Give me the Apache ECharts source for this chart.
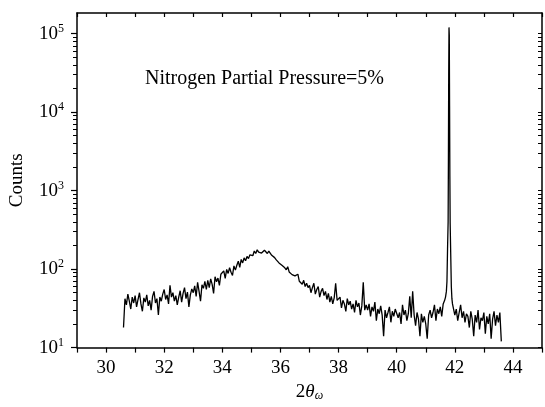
<!DOCTYPE html>
<html>
<head>
<meta charset="utf-8">
<script src="https://cdn.jsdelivr.net/npm/echarts@6/dist/echarts.min.js"></script>
<style>
  html, body { margin: 0; padding: 0; background: #fff; }
  #chart { width: 545px; height: 407px; }
</style>
</head>
<body>
<div id="chart"></div>
<script>
// scan before the peak: 30.60 .. 41.65, step 0.05
const scanAStart = 30.6
const scanBStart = 41.95
const scanStep = 0.05
const scanA = [
  18, 42, 35, 48, 39, 31, 44, 37,
  46, 33, 41, 50, 36, 29, 43, 38, 47, 34,
  40, 30, 45, 52, 37, 42, 26, 44, 39, 48,
  55, 41, 47, 36, 62, 44, 50, 39, 46, 35,
  44, 53, 38, 49, 58, 42, 51, 33, 47, 56,
  50, 61, 45, 68, 52, 39, 63, 57, 70, 55,
  72, 58, 75, 64, 49, 80, 69, 77, 62, 86,
  82, 95, 76, 99, 88, 104, 91, 83, 110, 97,
  112, 126, 105, 133, 120, 139, 128, 145, 136, 152,
  160, 148, 170, 158, 176, 165, 172, 160, 168, 174,
  166, 158, 170, 162, 150, 155, 140, 132, 128, 120,
  124, 112, 118, 104, 98, 107, 92, 96, 85, 90,
  82, 78, 86, 70, 74, 64, 72, 60, 66, 58,
  62, 50, 58, 66, 48, 55, 60, 44, 52, 57,
  46, 52, 41, 49, 38, 45, 36, 43, 66, 40,
  38, 44, 32, 40, 36, 29, 42, 35, 39, 31,
  36, 28, 40, 33, 37, 26, 34, 68, 30, 35,
  30, 36, 25, 33, 29, 38, 22, 31, 27, 34,
  26, 14, 30, 24, 28, 33, 21, 29, 25, 31,
  32, 24, 28, 20, 35, 26, 30, 22, 27, 45,
  24, 52, 26, 19, 28, 23, 14, 27, 21, 25,
  20, 13, 26, 30, 24, 28, 35, 22, 31, 27,
  33, 25, 36, 40
]
// the sharp peak near 41.8
const peakTheta = [41.68, 41.71, 41.73, 41.75, 41.77, 41.78, 41.79, 41.80, 41.81, 41.82, 41.83, 41.84, 41.86, 41.88, 41.90, 41.92]
const peakCounts = [44, 52, 70, 180, 400, 2500, 30000, 120000, 95000, 12000, 1500, 380, 150, 60, 42, 36]
// scan after the peak: 41.95 .. 43.60
const scanB = [
  34, 26, 31, 22, 28, 35, 24, 29, 21, 27,
  25, 18, 29, 23, 14, 26, 21, 30, 17, 24,
  22, 28, 15, 25, 20, 27, 13, 23, 29, 19,
  26, 21, 28, 12
]

const majorTicks = [10, 100, 1000, 10000, 100000]
const minorTicks = []
majorTicks.forEach(p => {
  for (let k = 2; k <= 9; k++) minorTicks.push(p * k)
})

const yMin = 10
const yMax = 183000
const xMin = 29
const xMax = 45

const seriesData = []
scanA.forEach((v, i) => seriesData.push([+(scanAStart + i * scanStep).toFixed(2), v]))
peakTheta.forEach((t, i) => seriesData.push([t, peakCounts[i]]))
scanB.forEach((v, i) => seriesData.push([+(scanBStart + i * scanStep).toFixed(2), v]))

const serif = 'Liberation Serif'
const lineStyle = { color: '#000', width: 1.5 }

const chart = echarts.init(document.getElementById('chart'))

const option = {
  animation: false,
  backgroundColor: '#fff',
  textStyle: { fontFamily: serif, color: '#000' },
  title: {
    text: 'Nitrogen Partial Pressure=5%',
    left: 140,
    top: 64,
    textStyle: { fontFamily: serif, fontSize: 20, fontWeight: 'normal', color: '#000' }
  },
  grid: { left: 77, right: 1, top: 13, bottom: 53 },
  xAxis: [
    {
      type: 'value',
      min: xMin,
      max: xMax,
      interval: 1,
      name: '2{i|θ}{s|ω}',
      nameLocation: 'middle',
      nameGap: 29,
      nameTextStyle: {
        fontFamily: serif,
        fontSize: 19,
        color: '#000',
        rich: {
          i: { fontFamily: serif, fontSize: 19, fontStyle: 'italic', color: '#000' },
          s: { fontFamily: serif, fontSize: 12, fontStyle: 'italic', color: '#000', verticalAlign: 'bottom', padding: [8, 0, 0, 0] }
        }
      },
      axisLine: { onZero: false, lineStyle: lineStyle },
      axisTick: { inside: false, length: 5, lineStyle: { color: '#000', width: 1.2 } },
      axisLabel: {
        margin: 11,
        fontFamily: serif,
        fontSize: 19,
        color: '#000',
        formatter: v => (v % 2 === 0 && v > xMin && v < xMax) ? String(v) : ''
      },
      splitLine: { show: false }
    },
    {
      type: 'value',
      position: 'top',
      min: xMin,
      max: xMax,
      interval: 1,
      axisLine: { onZero: false, lineStyle: lineStyle },
      axisTick: { inside: true, length: 4, lineStyle: { color: '#000', width: 1.2 } },
      axisLabel: { show: false },
      splitLine: { show: false }
    }
  ],
  yAxis: [
    {
      type: 'log',
      logBase: 10,
      min: yMin,
      max: yMax,
      name: 'Counts',
      nameLocation: 'middle',
      nameGap: 50,
      nameTextStyle: { fontFamily: serif, fontSize: 19, color: '#000' },
      axisLine: { onZero: false, lineStyle: lineStyle },
      axisTick: { inside: false, length: 6, customValues: majorTicks, lineStyle: { color: '#000', width: 1.2 } },
      axisLabel: {
        margin: 13,
        customValues: majorTicks,
        formatter: v => '{b|10}{s|' + Math.round(Math.log10(v)) + '}',
        rich: {
          b: { fontFamily: serif, fontSize: 19, color: '#000', lineHeight: 22 },
          s: { fontFamily: serif, fontSize: 12, color: '#000', verticalAlign: 'top' }
        }
      },
      splitLine: { show: false }
    },
    {
      type: 'log',
      logBase: 10,
      min: yMin,
      max: yMax,
      position: 'left',
      axisLine: { show: false },
      axisTick: { inside: false, length: 4, customValues: minorTicks, lineStyle: { color: '#000', width: 1 } },
      axisLabel: { show: false },
      splitLine: { show: false }
    },
    {
      type: 'log',
      logBase: 10,
      min: yMin,
      max: yMax,
      position: 'right',
      axisLine: { onZero: false, lineStyle: lineStyle },
      axisTick: { inside: true, length: 4, customValues: majorTicks.concat(minorTicks), lineStyle: { color: '#000', width: 1 } },
      axisLabel: { show: false },
      splitLine: { show: false }
    }
  ],
  series: [
    {
      name: 'Counts',
      type: 'line',
      xAxisIndex: 0,
      yAxisIndex: 0,
      data: seriesData,
      showSymbol: false,
      sampling: null,
      lineStyle: { color: '#000', width: 1.3 },
      itemStyle: { color: '#000' }
    }
  ]
}

chart.setOption(option)
</script>
</body>
</html>
